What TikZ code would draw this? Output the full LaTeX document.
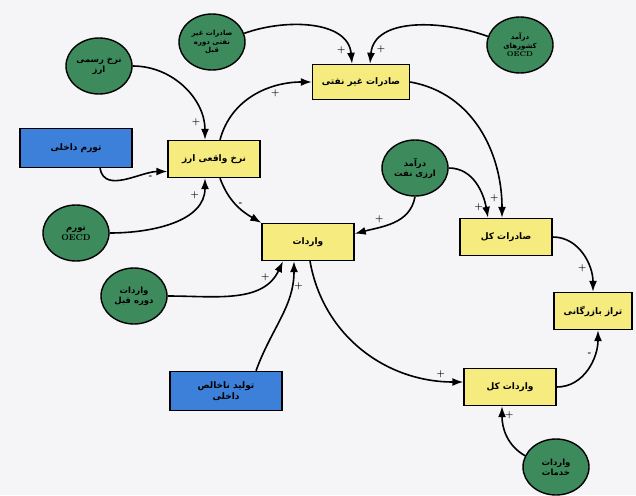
\documentclass[tikz,border=0pt]{standalone}
\usepackage{fontspec}
\usepackage{tikz}
\usetikzlibrary{shapes.geometric, arrows.meta}
\TeXXeTstate=1
\newfontfamily\arabicfont[Script=Arabic, BoldFont={DejaVu Sans Bold}]{DejaVu Sans}
\newcommand{\fa}[1]{{\arabicfont\bfseries\beginR #1\endR}}
\definecolor{boxyellow}{HTML}{F5EB7E}
\definecolor{varblue}{HTML}{3D80DA}
\definecolor{extgreen}{HTML}{3D8A5D}
\definecolor{paper}{HTML}{F5F5F8}

\begin{document}
\begin{tikzpicture}[
    x=1pt, y=-1pt,
    every node/.style={font=\fontsize{9}{10.5}\selectfont, align=center, text=black}, % text of all nodes
    var/.style={rectangle, draw=black, line width=1.4pt, fill=boxyellow, minimum width=92pt, minimum height=37pt}, % model variables
    exo/.style={rectangle, draw=black, line width=1.4pt, fill=varblue, minimum width=112pt, minimum height=39pt}, % domestic inputs
    ext/.style={ellipse, draw=black, line width=1.4pt, fill=extgreen, minimum width=66pt, minimum height=56pt, inner sep=0pt,
                font=\fontsize{8.5}{10}\selectfont}, % outside inputs
    small/.style={font=\fontsize{7}{8.5}\selectfont}, % crowded ellipse text
    link/.style={draw=black, line width=1.6pt, -{Latex[length=11pt,width=8pt]}}, % causal links
    sign/.style={font=\fontsize{9}{9}\selectfont\bfseries, inner sep=2pt} % polarity of a link
    ]
    \fill[paper] (0,0) rectangle (636,495);
    \useasboundingbox (0,0) rectangle (636,495);

    % inputs and variables
    \node[ext, small] (prevnf) at (212,42) {\fa{صادرات غیر}\\\fa{نفتی دوره}\\\fa{قبل}};
    \node[ext, small] (oecdinc) at (520,45) {\fa{درآمد}\\\fa{کشورهای}\\\textbf{OECD}};
    \node[ext] (offrate) at (99,66) {\fa{نرخ رسمی}\\\fa{ارز}};
    \node[var, minimum width=97pt, minimum height=35pt] (nonoil) at (361,82) {\fa{صادرات غیر نفتی}};
    \node[exo] (dominf) at (76,148) {\fa{تورم داخلی}};
    \node[var] (realrate) at (214,159) {\fa{نرخ واقعی ارز}};
    \node[ext] (oecdinf) at (76,233) {\fa{تورم}\\\textbf{OECD}};
    \node[ext] (oilinc) at (415,168) {\fa{درآمد}\\\fa{ارزی نفت}};
    \node[var] (imports) at (308,242) {\fa{واردات}};
    \node[var] (totexp) at (506,237) {\fa{صادرات کل}};
    \node[var, minimum width=78pt] (trade) at (593,311) {\fa{تراز بازرگانی}};
    \node[ext] (previmp) at (134,296) {\fa{واردات}\\\fa{دوره قبل}};
    \node[exo] (gdp) at (226,391) {\fa{تولید ناخالص}\\\fa{داخلی}};
    \node[var] (totimp) at (510,387) {\fa{واردات کل}};
    \node[ext] (servimp) at (556,467) {\fa{واردات}\\\fa{خدمات}};

    % links
    \draw[link] (prevnf.15) to[out=20, in=95] node[sign, pos=0.88, left] {+} ([xshift=-9pt]nonoil.north);
    \draw[link] (oecdinc.165) to[out=160, in=85] node[sign, pos=0.88, right] {+} ([xshift=9pt]nonoil.north);
    \draw[link] (offrate.east) to[out=0, in=90] node[sign, pos=0.85, left] {+} ([xshift=-9pt]realrate.north);
    \draw[link] ([xshift=24pt]dominf.south) to[out=-80, in=180] node[sign, pos=0.8, below] {-} (realrate.195);
    \draw[link] (oecdinf.east) to[out=0, in=-90] node[sign, pos=0.85, left] {+} ([xshift=-9pt]realrate.south);
    \draw[link] ([xshift=6pt]realrate.north) to[out=75, in=180] node[sign, pos=0.7, below] {+} (nonoil.west);
    \draw[link] ([xshift=6pt]realrate.south) to[out=-70, in=150] node[sign, pos=0.5, right] {-} (imports.north west);
    \draw[link] (oilinc.south) to[out=-100, in=15] node[sign, pos=0.6, above left] {+} (imports.10);
    \draw[link] (oilinc.east) to[out=0, in=100] node[sign, pos=0.85, left] {+} ([xshift=-18pt]totexp.north);
    \draw[link] (nonoil.east) to[out=-10, in=90] node[sign, pos=0.9, left] {+} ([xshift=-4pt]totexp.north);
    \draw[link] (totexp.east) to[out=0, in=90] node[sign, pos=0.7, left] {+} (trade.north);
    \draw[link] (totimp.east) to[out=0, in=-90] node[sign, pos=0.7, left] {-} ([xshift=5pt]trade.south);
    \draw[link] (previmp.east) to[out=0, in=-115] node[sign, pos=0.85, left] {+} ([xshift=-25pt]imports.south);
    \draw[link] ([xshift=30pt]gdp.north) to[out=70, in=-90] node[sign, pos=0.8, right] {+} ([xshift=-14pt]imports.south);
    \draw[link] ([xshift=2pt]imports.south) to[out=-80, in=180] node[sign, pos=0.9, above] {+} ([yshift=5pt]totimp.west);
    \draw[link] (servimp.160) to[out=150, in=-90] node[sign, pos=0.85, right] {+} ([xshift=-8pt]totimp.south);
\end{tikzpicture}
\end{document}
